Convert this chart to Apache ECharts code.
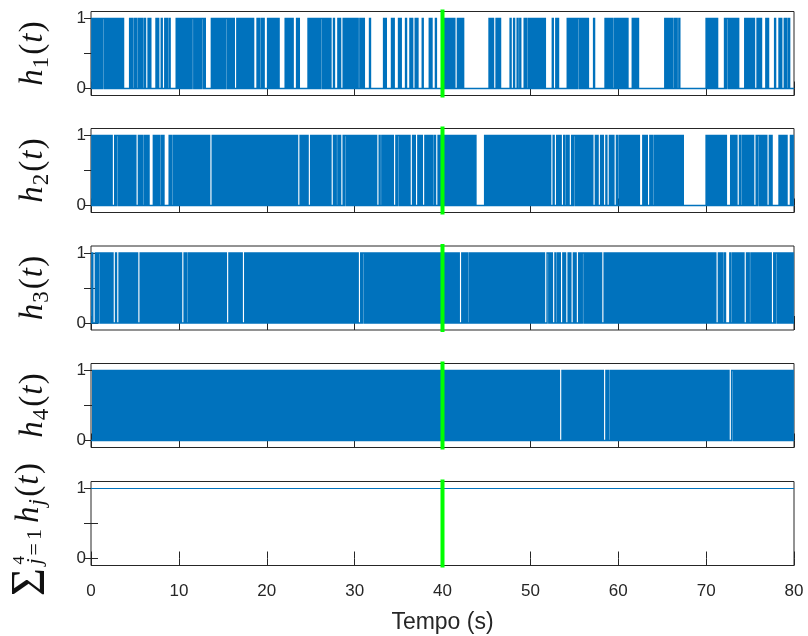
<!DOCTYPE html>
<html>
<head>
<meta charset="utf-8">
<script src="https://cdn.jsdelivr.net/npm/echarts@6/dist/echarts.min.js"></script>
<style>
  html, body { margin: 0; padding: 0; background: #ffffff; }
  #chart { width: 808px; height: 636px; }
</style>
</head>
<body>
<div id="chart"></div>
<script>
// Switching signals h1..h4, sampled every 0.1 s; each string holds one second (10 samples).
const sampleStep = 0.1;

const h1Bits = [
  '0101010101','0101101010','1010101010','1010101000','0000101001','0100101010','0100010100','0000101000','1000101001','0000000101',
  '0101010101','0101011010','1010101101','0000000101','0101010101','0101101010','1010001010','1010101010','1010100001','0100101000',
  '0101010101','0101000000','0101010101','0000101000','0000000101','0101010101','0110101010','1010001000','0101000101','0101010101',
  '0101001010','1000000100','0000000000','0001010000','0010100000','1010000010','0001010001','0100000100','0000010100','0010000000',
  '0101010101','0101000101','0101000000','0000000000','0000000000','0001010100','0101010000','0000000100','0100010010','0001010010',
  '1010101010','1010101000','0000010001','0100000000','0010101010','1010110101','0101010000','0010000000','0000010101','0101001010',
  '1010101010','1000001010','1010000000','0000000000','0000000000','0001010101','0100101001','0000000000','0000000000','0000000000',
  '1010101010','1010000000','0101101010','1010101000','0000101010','1010100010','1010000010','1000000010','0001010001','0100100000'
];

const h2Bits = [
  '0101010101','0101010101','0101000101','1010101010','1010101010','1000101010','0101010000','0101010100','1010000001','0100101010',
  '1010101010','1010101010','1010101010','1010100010','1010101010','1010101010','1010101010','1010101010','1010101010','1010101010',
  '1010101010','1010101010','1010101010','1010100010','1010101000','1010101010','1010101010','1010001010','0101000101','1010101010',
  '1010101010','1010101010','1010100010','0101010101','0101000101','1010101010','1010001010','0010101000','1010101010','0100010101',
  '0101010101','0101010101','0101010101','0101010100','0000000010','1010101010','1010101010','1010101010','1010101010','1010101010',
  '1010101010','1010101010','1010001000','1010100010','0101000101','1010101010','1010101010','1000101000','1010001000','1010100010',
  '0101010101','0101010101','0101000010','1010001010','0101010101','0101010101','0101010101','0101000000','0000000000','0000000000',
  '1010101010','1010101010','1010000010','1010100010','0101010101','0101000101','1010101010','0010100000','0001010101','0100001010'
];

const h3Bits = [
  '0100010101','1010101010','1010100010','0010101010','1010101010','1010001010','1010101010','1010101010','1010101010','1010101010',
  '1010001010','0101010101','0101010101','0101010101','0101010101','0101000101','0101010101','0100010101','0101010101','0101010101',
  '0101010101','0101010101','0101010101','0101010101','0101010101','0101010101','0101010101','0101010101','0101010101','0101010101',
  '0101000101','1010101010','1010101010','1010101010','1010101010','1010101010','1010101010','1010101010','1010101010','1010101010',
  '1010101010','1010101010','0010101010','0101010101','0101010101','0101010101','0101010101','0101010101','0101010101','0101010101',
  '0101010101','0101010001','1010100010','0101000101','0001010001','0100010101','1010101010','1010101010','1000101010','1010101010',
  '1010101010','1010101010','1010101010','1010101010','1010101010','1010101010','1010101010','1010101010','1010101010','1010101010',
  '1010101010','1000101010','0100000100','1010101010','1010001010','0101010101','0101010101','0101000101','1010101010','1010101010'
];

const h4Bits = [
  '0010101010','1010101010','1010101010','1010101010','1010101010','1010101010','1010101010','1010101010','1010101010','1010101010',
  '1010101010','1010101010','1010101010','1010101010','1010101010','1010101010','1010101010','1010101010','1010101010','1010101010',
  '1010101010','1010101010','1010101010','1010101010','1010101010','1010101010','1010101010','1010101010','1010101010','1010101010',
  '1010101010','1010101010','1010101010','1010101010','1010101010','1010101010','1010101010','1010101010','1010101010','1010101010',
  '1010101010','1010101010','1010101010','1010101010','1010101010','1010101010','1010101010','1010101010','1010101010','1010101010',
  '1010101010','1010101010','1010101010','1010001010','1010101010','1010101010','1010101010','1010101010','1010001010','0101010101',
  '0101010101','0101010101','0101010101','0101010101','0101010101','0101010101','0101010101','0101010101','0101010101','0101010101',
  '0101010101','0101010101','0101010001','1010101010','1010101010','1010101010','1010101010','1010101010','1010101010','1010101010'
];

// Sum of all four signals
const sumTime = [0, 80];
const sumValue = [1, 1];

// Instant marked by the green line
const markTime = 40;

// Axis settings
const timeMin = 0, timeMax = 80, timeStep = 10;
const yMin = -0.1, yMax = 1.1;
const yTickValues = [0, 0.5, 1];
const yLabelValues = [0, 1];

const signals = [h1Bits, h2Bits, h3Bits, h4Bits];

// Zero-order-hold corner points [t, value] of one signal
function toSteps(bits) {
  const s = bits.join('');
  const pts = [];
  for (let i = 0; i < s.length; i++) {
    const v = Number(s[i]);
    pts.push([Math.round(i * sampleStep * 1000) / 1000, v]);
    pts.push([Math.round((i + 1) * sampleStep * 1000) / 1000, v]);
  }
  return pts;
}

const BLUE = '#0072BD';
const AXIS = '#262626';
const SANS = '"Liberation Sans", Arial, Helvetica, sans-serif';
const gridTops = [11.5, 128.5, 246, 363.5, 481.5];
const gridH = 84;

const grid = [], xAxis = [], yAxis = [], series = [];

gridTops.forEach((top, i) => {
  grid.push({
    left: 91, right: 14, top: top, height: gridH,
    show: true, borderColor: AXIS, borderWidth: 1, backgroundColor: 'transparent'
  });
  const tick = { show: true, inside: true, length: 7, lineStyle: { color: AXIS, width: 1 } };
  const last = i === gridTops.length - 1;
  xAxis.push({
    gridIndex: i, type: 'value', position: 'bottom',
    min: timeMin, max: timeMax, interval: timeStep,
    axisLine: { show: false }, axisTick: tick, splitLine: { show: false },
    axisLabel: { show: last, margin: 17, fontSize: 17, color: AXIS, fontFamily: SANS },
    name: last ? 'Tempo (s)' : '', nameLocation: 'middle', nameGap: 46,
    nameTextStyle: { fontSize: 23, color: AXIS, fontFamily: SANS }
  });
  xAxis.push({
    gridIndex: i, type: 'value', position: 'top',
    min: timeMin, max: timeMax, interval: timeStep,
    axisLine: { show: false }, axisTick: tick, splitLine: { show: false },
    axisLabel: { show: false }
  });
  yAxis.push({
    gridIndex: i, type: 'value', position: 'left', min: yMin, max: yMax,
    axisLine: { show: false }, splitLine: { show: false },
    axisTick: Object.assign({}, tick, { customValues: yTickValues }),
    axisLabel: { customValues: yLabelValues, margin: 5, fontSize: 17, color: AXIS, fontFamily: SANS,
                 padding: [4, 0, 0, 0] }
  });
  yAxis.push({
    gridIndex: i, type: 'value', position: 'right', min: yMin, max: yMax,
    axisLine: { show: false }, splitLine: { show: false },
    axisTick: Object.assign({}, tick, { customValues: yTickValues }),
    axisLabel: { show: false }
  });

  if (i < signals.length) {
    // One polyline per signal, every corner mapped through the axes
    const steps = toSteps(signals[i]);
    series.push({
      type: 'custom', coordinateSystem: 'cartesian2d',
      xAxisIndex: 2 * i, yAxisIndex: 2 * i,
      data: [[steps[0][0], steps[0][1]]],
      silent: true, z: 2,
      renderItem: function (params, api) {
        return {
          type: 'polyline',
          shape: { points: steps.map(p => api.coord(p)) },
          style: { stroke: BLUE, lineWidth: 1.5, fill: null }
        };
      }
    });
  } else {
    series.push({
      type: 'line', xAxisIndex: 2 * i, yAxisIndex: 2 * i,
      data: sumTime.map((t, k) => [t, sumValue[k]]),
      showSymbol: false, symbol: 'none', silent: true,
      lineStyle: { color: BLUE, width: 1.2 }, z: 2
    });
  }
  series.push({
    type: 'line', xAxisIndex: 2 * i, yAxisIndex: 2 * i,
    data: [[markTime, yMin], [markTime, yMax]],
    showSymbol: false, symbol: 'none', silent: true, clip: false,
    lineStyle: { color: '#00ff00', width: 4, cap: 'square' }, z: 3
  });
});

// Rotated math-style axis titles, built from pieces placed along a common baseline
const measure = document.createElement('canvas').getContext('2d');
const SERIF = '"Liberation Serif", "Times New Roman", serif';
function fontOf(p) { return (p.it ? 'italic ' : '') + p.size + 'px ' + SERIF; }
function middleToBaseline(font) {
  measure.font = font;
  measure.textBaseline = 'middle';
  const m = measure.measureText('H');
  return m.actualBoundingBoxDescent;
}
function mathLabel(baseX, centerY, pieces) {
  let x = 0;
  const placed = [];
  pieces.forEach(p => {
    const f = fontOf(p);
    measure.font = f;
    measure.textBaseline = 'alphabetic';
    const w = measure.measureText(p.t).width;
    placed.push({ p: p, f: f, x: x });
    if (p.adv !== false) x += w + (p.post || 0);
  });
  const total = x;
  return {
    type: 'group', x: baseX, y: centerY, rotation: Math.PI / 2, silent: true,
    children: placed.map(o => ({
      type: 'text', x: o.x - total / 2, y: (o.p.dy || 0) - middleToBaseline(o.f),
      style: { text: o.p.t, font: o.f, fill: '#111111', align: 'left', verticalAlign: 'middle' }
    }))
  };
}

const graphic = [];
for (let i = 0; i < 4; i++) {
  graphic.push(mathLabel(41.5, gridTops[i] + gridH / 2, [
    { t: 'h', it: true, size: 33, post: 1 },
    { t: String(i + 1), size: 23, dy: 6, post: 2 },
    { t: '(', size: 33, post: 1 },
    { t: 't', it: true, size: 33, post: 1.5 },
    { t: ')', size: 33 }
  ]));
}
graphic.push(mathLabel(38, gridTops[4] + gridH / 2 + 6, [
  { t: 'Σ', size: 48, dy: 6, post: 3.5 },
  { t: '4', size: 17, dy: -14, adv: false },
  { t: 'j', it: true, size: 22, dy: 3, post: 3 },
  { t: '=', size: 22, dy: 3, post: 3 },
  { t: '1', size: 22, dy: 3, post: 6 },
  { t: 'h', it: true, size: 33, post: 1 },
  { t: 'j', it: true, size: 23, dy: 6, post: 2.5 },
  { t: '(', size: 33, post: 1 },
  { t: 't', it: true, size: 33, post: 1.5 },
  { t: ')', size: 33 }
]));

const chart = echarts.init(document.getElementById('chart'), null, { renderer: 'canvas' });
chart.setOption({
  animation: false,
  backgroundColor: '#ffffff',
  grid: grid,
  xAxis: xAxis,
  yAxis: yAxis,
  series: series,
  graphic: graphic
});
</script>
</body>
</html>
